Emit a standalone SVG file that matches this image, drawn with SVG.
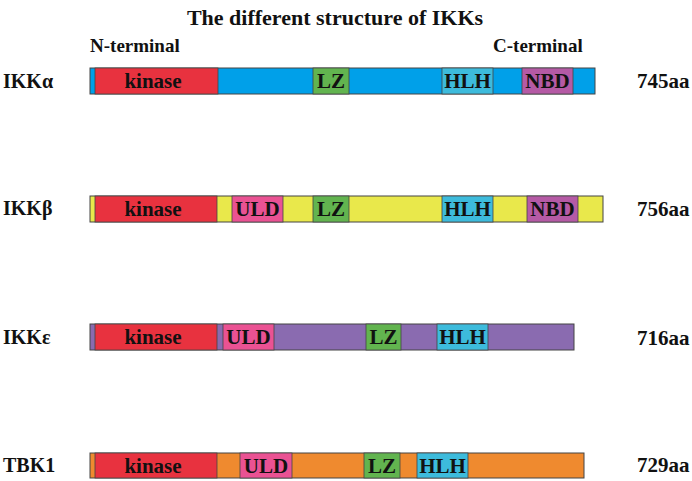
<svg xmlns="http://www.w3.org/2000/svg" width="692" height="481" viewBox="0 0 692 481">
<style>
text{font-family:"Liberation Serif","Times New Roman",serif;font-weight:bold;fill:#111}
.t{font-size:22px}
.lab{font-size:19px}
.row{font-size:20px}
.aa{font-size:21px}
.dom{font-size:21px;text-anchor:middle}
.bar{stroke:#444;stroke-width:1}
.d{stroke:#444;stroke-width:0.8}
.kin{fill:#e8323f}.lz{fill:#62b44f}.hlh{fill:#3dbbdc}.nbd{fill:#b55aa5}.uld{fill:#ea5293}
</style>
<rect width="692" height="481" fill="#fff"/>
<text class="t" x="335" y="25" text-anchor="middle">The different structure of IKKs</text>
<text class="lab" x="90" y="52">N-terminal</text>
<text class="lab" x="493" y="52">C-terminal</text>

<g id="ikka">
<text class="row" x="3" y="88">IKKα</text>
<rect class="bar" x="90" y="68" width="505" height="26" fill="#00a0e9"/>
<rect class="d kin" x="95" y="68" width="123" height="26"/>
<text class="dom" x="153" y="88">kinase</text>
<rect class="d lz" x="313" y="68" width="36" height="26"/>
<text class="dom" x="331" y="88">LZ</text>
<rect class="d hlh" x="442" y="68" width="51" height="26"/>
<text class="dom" x="467.5" y="88">HLH</text>
<rect class="d nbd" x="522" y="68" width="51" height="26"/>
<text class="dom" x="547.5" y="88">NBD</text>
<text class="aa" x="637" y="88">745aa</text>
</g>

<g id="ikkb">
<text class="row" x="3" y="215">IKKβ</text>
<rect class="bar" x="90" y="196" width="513" height="26" fill="#e9e84b"/>
<rect class="d kin" x="95" y="196" width="122" height="26"/>
<text class="dom" x="153" y="216">kinase</text>
<rect class="d uld" x="232" y="196" width="51" height="26"/>
<text class="dom" x="257.5" y="216">ULD</text>
<rect class="d lz" x="313" y="196" width="36" height="26"/>
<text class="dom" x="331" y="216">LZ</text>
<rect class="d hlh" x="442" y="196" width="51" height="26"/>
<text class="dom" x="467.5" y="216">HLH</text>
<rect class="d nbd" x="527" y="196" width="51" height="26"/>
<text class="dom" x="552.5" y="216">NBD</text>
<text class="aa" x="637" y="216">756aa</text>
</g>

<g id="ikke">
<text class="row" x="3" y="344">IKKε</text>
<rect class="bar" x="90" y="324" width="484" height="26" fill="#8a6bb0"/>
<rect class="d kin" x="95" y="324" width="122" height="26"/>
<text class="dom" x="153" y="344">kinase</text>
<rect class="d uld" x="223" y="324" width="51" height="26"/>
<text class="dom" x="248.5" y="344">ULD</text>
<rect class="d lz" x="366" y="324" width="35" height="26"/>
<text class="dom" x="383.5" y="344">LZ</text>
<rect class="d hlh" x="437" y="324" width="51" height="26"/>
<text class="dom" x="462.5" y="344">HLH</text>
<text class="aa" x="637" y="345">716aa</text>
</g>

<g id="tbk1">
<text class="row" x="3" y="472">TBK1</text>
<rect class="bar" x="90" y="453" width="494" height="25" fill="#ef8a2f"/>
<rect class="d kin" x="95" y="453" width="122" height="25"/>
<text class="dom" x="153" y="473">kinase</text>
<rect class="d uld" x="240" y="453" width="52" height="25"/>
<text class="dom" x="266" y="473">ULD</text>
<rect class="d lz" x="364" y="453" width="36" height="25"/>
<text class="dom" x="382" y="473">LZ</text>
<rect class="d hlh" x="417" y="453" width="51" height="25"/>
<text class="dom" x="442.5" y="473">HLH</text>
<text class="aa" x="637" y="472">729aa</text>
</g>
<g id="connectors"/>
</svg>
